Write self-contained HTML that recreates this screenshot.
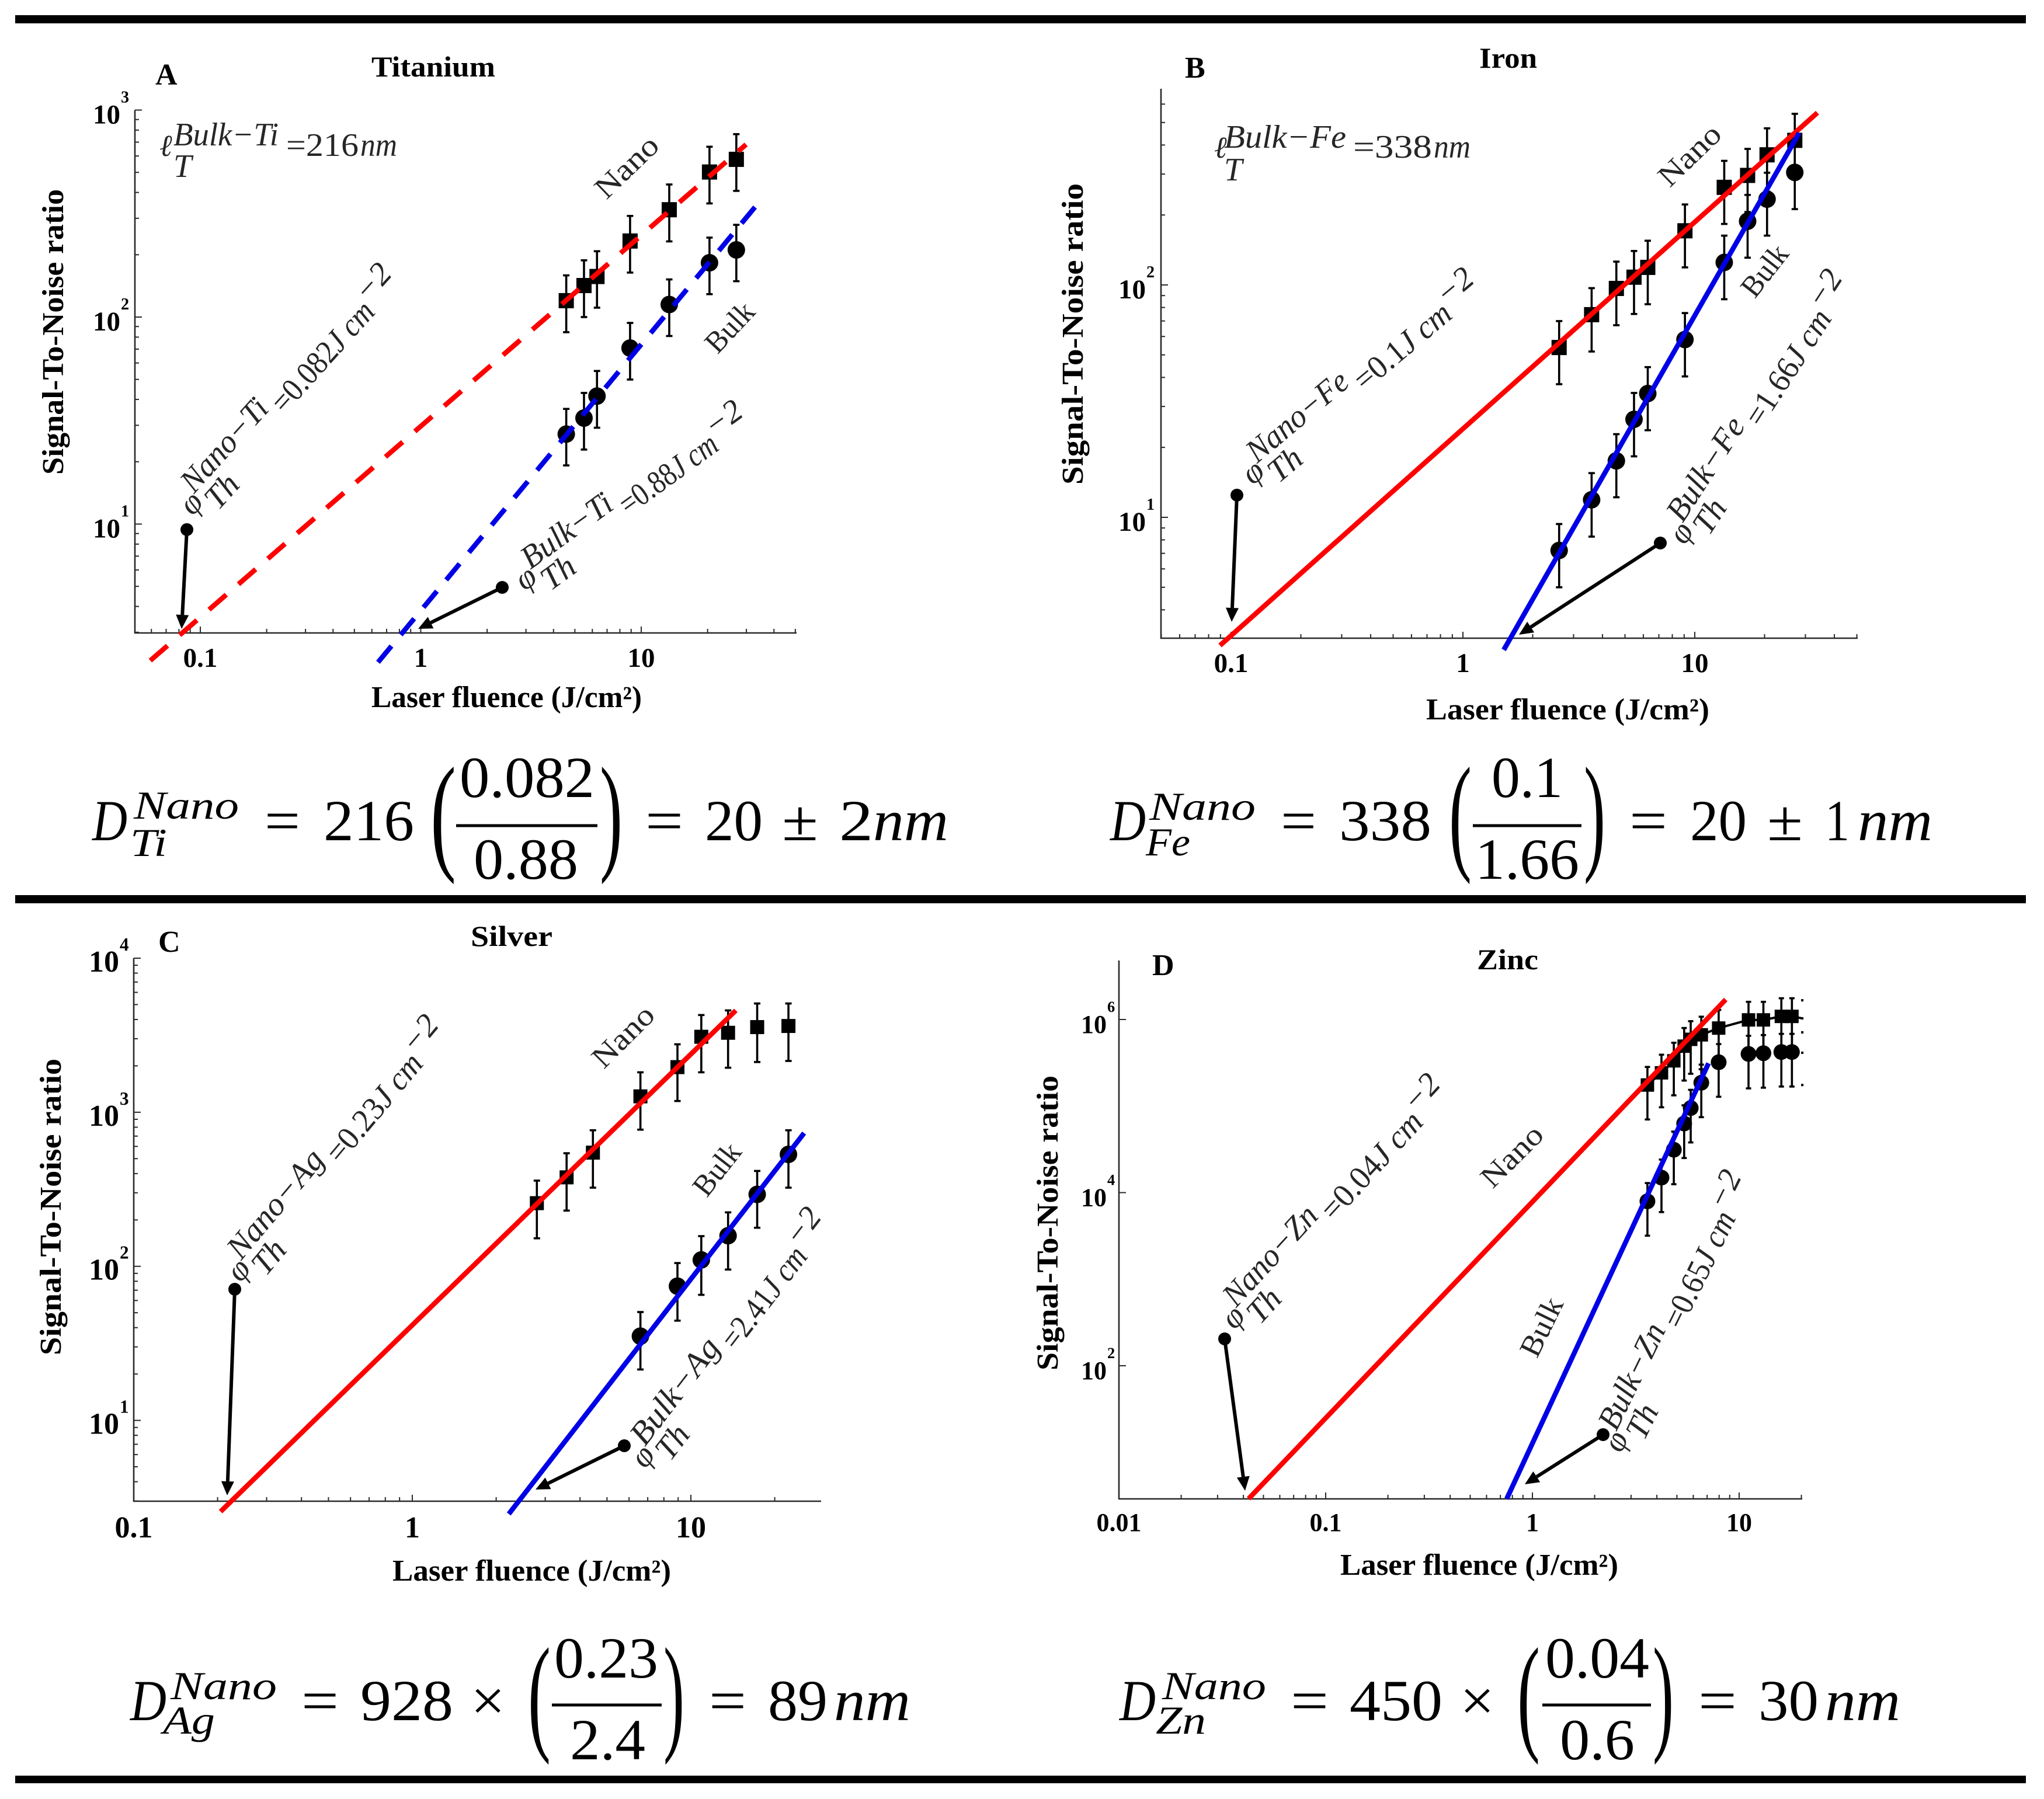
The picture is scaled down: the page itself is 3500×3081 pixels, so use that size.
<!DOCTYPE html>
<html lang="en">
<head>
<meta charset="utf-8">
<title>Signal-to-noise versus laser fluence for bulk and nano metals</title>
<style>
html,body{margin:0;padding:0;background:#fff;}
svg{display:block;}
text{font-family:"Liberation Serif","DejaVu Serif",serif;}
</style>
</head>
<body>
<svg id="figure" xmlns="http://www.w3.org/2000/svg" width="3500" height="3081" viewBox="0 0 3500 3081">
  <rect x="0" y="0" width="3500" height="3081" fill="#fff"/>
  <rect x="26" y="26" width="3443" height="14" fill="#000"/>
  <rect x="26" y="1533" width="3443" height="14" fill="#000"/>
  <rect x="26" y="3041" width="3443" height="13" fill="#000"/>
</svg>
<script>
/* ---------- Titanium data ---------- */
const tiFluence=[4.57,5.5,6.3,8.9,13.4,20.4,27];
const tiNano=[120,142,157,233,330,502,578];
const tiNanoHi=[159,188,208,308,437,665,765];
const tiNanoLo=[84.5,100,111,164,232,354,407];
const tiBulk=[27.2,32.5,41.5,70.8,115,183,211];
const tiBulkHi=[36,43,54.9,93.7,152,242,279];
const tiBulkLo=[19.2,22.9,29.2,49.9,81,129,149];
const tiFitNanoX=[0.0593,29.9];
const tiFitNanoY=[2.19,682];
const tiFitBulkX=[0.64,33.8];
const tiFitBulkY=[2.15,353];
const tiXTicks=[0.1,1,10];
const tiXLabels=['0.1','1','10'];
const tiYExps=[1,2,3];

/* ---------- Iron data ---------- */
const feFluence=[2.6,3.59,4.59,5.47,6.27,9.07,13.4,16.9,20.5,27];
const feNano=[53.8,74.5,96.6,108,119,171,263,296,363,419];
const feNanoHi=[69.9,96.9,126,140,155,222,342,385,472,545];
const feNanoLo=[37.4,51.7,67.1,75,82.6,119,183,206,252,291];
const feBulk=[7.2,11.9,17.5,26.4,34.1,58.2,125,188,234,305];
const feBulkHi=[9.36,15.5,22.8,34.3,44.3,75.7,163,244,304,397];
const feBulkLo=[5,8.26,12.2,18.3,23.7,40.4,86.8,131,163,212];
const feFitNanoX=[0.0896,33.8];
const feFitNanoY=[2.81,551];
const feFitBulkX=[1.5,28.2];
const feFitBulkY=[2.69,451];
const feXTicks=[0.1,1,10];
const feXLabels=['0.1','1','10'];
const feYExps=[1,2];

/* ---------- Silver data ---------- */
const agNanoFluence=[2.8,3.58,4.45,6.59,8.95,10.9,13.6,17.3,22.4];
const agNano=[257,378,547,1268,1963,3090,3280,3570,3630];
const agNanoHi=[360,542,764,1817,2761,4276,4581,5082,5082];
const agNanoLo=[152,230,324,771,1183,1817,1945,2118,2153];
const agBulkFluence=[6.59,8.95,10.9,13.6,17.3,22.4];
const agBulk=[35.2,74.3,110,158,293,533];
const agBulkHi=[50.5,105,157,224,416,764];
const agBulkLo=[21.4,44.4,65.3,95.3,178,324];
const agFitNanoX=[0.205,14.5];
const agFitNanoY=[2.56,4580];
const agFitBulkX=[2.22,25.5];
const agFitBulkY=[2.47,733];
const agXTicks=[0.1,1,10];
const agXLabels=['0.1','1','10'];
const agYExps=[1,2,3,4];

/* ---------- Zinc data ---------- */
const znFluence=[3.6,4.21,4.83,5.42,5.83,6.56,7.96,11.1,13.1,16,18];
const znNano=[175000,242000,333000,492000,590000,665000,796000,989000,989000,1086000,1086000];
const znNanoHi=[283000,392000,539000,797000,956000,1077000,1290000,1600000,1600000,1760000,1760000];
const znNanoLo=[70000,96800,133000,197000,236000,266000,318000,396000,396000,434000,434000];
const znBulk=[7940,14900,31300,62800,94900,186000,321000,400000,408000,421000,421000];
const znBulkHi=[12900,24100,50700,102000,154000,301000,520000,648000,661000,682000,682000];
const znBulkLo=[3180,5960,12500,25100,38000,74400,128000,160000,163000,168000,168000];
const znFitNanoX=[0.0424,8.61];
const znFitNanoY=[2.91,1700000];
const znFitBulkX=[0.751,7.11];
const znFitBulkY=[2.9,312000];
const znEdgeFluence=[20.2];
const znEdgeCaps=[1667000,1030000,710000,413000,175000];
const znXTicks=[0.01,0.1,1,10];
const znXLabels=['0.01','0.1','1','10'];
const znYExps=[2,4,6];

const SVGNS='http://www.w3.org/2000/svg';
const root=document.getElementById('figure');
const INK='#262626';

function mk(parent,tag,attrs,txt){
  const e=document.createElementNS(SVGNS,tag);
  for(const k in attrs)e.setAttribute(k,attrs[k]);
  if(txt!==undefined)e.textContent=txt;
  parent.appendChild(e);
  return e;
}
function logScale(v1,p1,v2,p2){
  const m=(p2-p1)/(Math.log10(v2)-Math.log10(v1));
  return v=>p1+(Math.log10(v)-Math.log10(v1))*m;
}
function label(parent,name,x,y,str,size,opts){
  opts=opts||{};
  const a={x:x,y:y,'font-size':size,fill:opts.fill||'#000'};
  if(opts.bold)a['font-weight']='bold';
  if(opts.italic)a['font-style']='italic';
  if(opts.anchor)a['text-anchor']=opts.anchor;
  if(opts.len){a.textLength=opts.len;a.lengthAdjust='spacingAndGlyphs';}
  if(opts.transform)a.transform=opts.transform;
  const t=mk(parent,'text',a,str);
  
  
  return t;
}

function drawAxes(g,p,xs,ys){
  const ax=mk(g,'path',{d:`M${p.left} ${p.top}V${p.bottom}H${p.right}`,fill:'none',stroke:'#2a2a2a','stroke-width':2.6});
  
  
  const xLo=Math.floor(Math.log10(p.xMin)),xHi=Math.ceil(Math.log10(p.xMax));
  for(let d=xLo;d<xHi;d++)for(let m=1;m<10;m++){
    const v=m*Math.pow(10,d);
    if(v<p.xMin*0.999||v>p.xMax*1.001)continue;
    const tl=m===1?11:7;
    const t=mk(g,'line',{x1:xs(v),x2:xs(v),y1:p.bottom,y2:p.bottom-tl,stroke:'#2a2a2a','stroke-width':2});
    
    
  }
  const yLo=Math.floor(Math.log10(p.yMin)),yHi=Math.ceil(Math.log10(p.yMax));
  for(let d=yLo;d<=yHi;d++)for(let m=1;m<10;m++){
    if(m>1&&!p.yMinor)continue;
    const v=m*Math.pow(10,d);
    if(v<p.yMin*0.999||v>p.yMax*1.001)continue;
    if(!p.yMinor&&d%2!==0)continue;
    const tl=m===1?12:7;
    const t=mk(g,'line',{x1:p.left,x2:p.left+tl,y1:ys(v),y2:ys(v),stroke:'#2a2a2a','stroke-width':2});
    
    
  }
  p.xTicks.forEach((v,i)=>{
    label(g,'x-tick-label',xs(v),p.xLabelY,p.xLabels[i],p.tickSize,{bold:true,anchor:'middle'});
  });
  p.yExps.forEach(e=>{
    const v=Math.pow(10,e),y=ys(v);
    label(g,'y-tick-label',p.yLabelRight,y+23,'10',p.tickSize,{bold:true,anchor:'end'});
    label(g,'y-tick-exponent',p.yLabelRight+1,y-13,String(e),p.tickSize*0.6,{bold:true});
  });
}

function drawSeries(g,name,xVals,yVals,hi,lo,shape,p,xs,ys){
  xVals.forEach((xv,i)=>{
    const x=xs(xv),y1=ys(hi[i]),y2=ys(lo[i]);
    const st=mk(g,'line',{x1:x,x2:x,y1:y1,y2:y2,stroke:'#000','stroke-width':p.errW});
    
    
    [y1,y2].forEach(cy=>{
      const c=mk(g,'line',{x1:x-p.capW,x2:x+p.capW,y1:cy,y2:cy,stroke:'#000','stroke-width':p.errW});
      
      
    });
    const y=ys(yVals[i]);
    let m;
    if(shape==='square')m=mk(g,'rect',{x:x-p.sq/2,y:y-p.sq/2,width:p.sq,height:p.sq,fill:'#000'});
    else m=mk(g,'circle',{cx:x,cy:y,r:p.r,fill:'#000'});
    
    
  });
}

function drawFit(g,name,fx,fy,color,dash,xs,ys){
  const a={x1:xs(fx[0]),y1:ys(fy[0]),x2:xs(fx[1]),y2:ys(fy[1]),stroke:color,'stroke-width':8.5};
  if(dash)a['stroke-dasharray']=dash;
  const l=mk(g,'line',a);
  
  
}

function arrow(g,name,dx,dy,tx,ty){
  const ang=Math.atan2(ty-dy,tx-dx),L=24,W=11;
  const bx=tx-L*Math.cos(ang),by=ty-L*Math.sin(ang);
  const nx=-Math.sin(ang),ny=Math.cos(ang);
  const gg=mk(g,'g',{});
  
  
  mk(gg,'line',{x1:dx,y1:dy,x2:bx,y2:by,stroke:'#000','stroke-width':6});
  mk(gg,'circle',{cx:dx,cy:dy,r:11,fill:'#000'});
  mk(gg,'polygon',{points:`${tx},${ty} ${bx+nx*W},${by+ny*W} ${bx-nx*W},${by-ny*W}`,fill:'#000'});
}

function phiLabel(g,name,x,y,deg,sup,num,supLen,mainLen){
  const gg=mk(g,'g',{transform:`translate(${x} ${y}) rotate(${-deg})`});
  
  
  const S=56;
  mk(gg,'text',{x:0,y:0,'font-size':S,'font-style':'italic',fill:INK},'\u03C6');
  mk(gg,'text',{x:30,y:-24,'font-size':S,'font-style':'italic',fill:INK,textLength:supLen,lengthAdjust:'spacingAndGlyphs'},sup);
  mk(gg,'text',{x:36,y:26,'font-size':S,'font-style':'italic',fill:INK},'Th');
  const mx=30+supLen+10;
  const m=mk(gg,'text',{x:mx,y:0,'font-size':S,fill:INK,textLength:mainLen,lengthAdjust:'spacingAndGlyphs'});
  mk(m,'tspan',{},num);
  mk(m,'tspan',{'font-style':'italic'},'J cm');
  mk(gg,'text',{x:mx+mainLen+2,y:-22,'font-size':S,'font-style':'italic',fill:INK},'\u22122');
}

function ellLabel(g,name,lx,supX,supW,supY,tY,supStr,mainX,mainW,nmX,nmW,mainY,num){
  const gg=mk(g,'g',{});
  
  
  mk(gg,'text',{x:lx,y:mainY,'font-size':52,'font-style':'italic',fill:INK},'\u2113');
  mk(gg,'text',{x:supX,y:supY,'font-size':56,'font-style':'italic',fill:INK,textLength:supW,lengthAdjust:'spacingAndGlyphs'},supStr);
  mk(gg,'text',{x:supX,y:tY,'font-size':56,'font-style':'italic',fill:INK},'T');
  mk(gg,'text',{x:mainX,y:mainY,'font-size':56,fill:INK,textLength:mainW,lengthAdjust:'spacingAndGlyphs'},num);
  mk(gg,'text',{x:nmX,y:mainY,'font-size':56,'font-style':'italic',fill:INK,textLength:nmW,lengthAdjust:'spacingAndGlyphs'},'nm');
}

function eq(g,str,x1,x2,y,size,italic){
  const a={x:x1,y:y,'font-size':size,fill:'#000',textLength:x2-x1,lengthAdjust:'spacingAndGlyphs'};
  if(italic)a['font-style']='italic';
  return mk(g,'text',a,str);
}
function equation(name,e){
  const g=mk(root,'g',{});
  
  
  const B=e.base,N=e.numBase,D=e.denBase,F=100,Q=68;
  eq(g,'D',e.D[0],e.D[1],B,F,true);
  eq(g,'Nano',e.nano[0],e.nano[1],e.supBase,Q,true);
  eq(g,e.subStr,e.sub[0],e.sub[1],e.subBase,Q,true);
  eq(g,'=',e.eq1[0],e.eq1[1],B,F);
  eq(g,e.coefStr,e.coef[0],e.coef[1],B,F);
  if(e.times)eq(g,'\u00D7',e.times[0],e.times[1],B,F);
  eq(g,'(',e.lp[0],e.lp[1],e.parBase,222);
  eq(g,e.numStr,e.num[0],e.num[1],N,F);
  mk(g,'rect',{x:e.bar[0],y:e.barY-2.5,width:e.bar[1]-e.bar[0],height:5,fill:'#000'});
  eq(g,e.denStr,e.den[0],e.den[1],D,F);
  eq(g,')',e.rp[0],e.rp[1],e.parBase,222);
  eq(g,'=',e.eq2[0],e.eq2[1],B,F);
  eq(g,e.resStr,e.res[0],e.res[1],B,F);
  if(e.pm){
    eq(g,'\u00B1',e.pm[0],e.pm[1],B,F);
    eq(g,e.tolStr,e.tol[0],e.tol[1],B,F);
  }
  eq(g,'nm',e.nm[0],e.nm[1],B,F,true);
}

function panel(p){
  const g=mk(root,'g',{});
  
  
  const xs=logScale(p.xRef[0],p.xRef[1],p.xRef[2],p.xRef[3]);
  const ys=logScale(p.yRef[0],p.yRef[1],p.yRef[2],p.yRef[3]);
  p.xMin=Math.pow(10,Math.log10(p.xRef[0])+(p.left-p.xRef[1])*(Math.log10(p.xRef[2])-Math.log10(p.xRef[0]))/(p.xRef[3]-p.xRef[1]));
  p.xMax=Math.pow(10,Math.log10(p.xRef[0])+(p.right-p.xRef[1])*(Math.log10(p.xRef[2])-Math.log10(p.xRef[0]))/(p.xRef[3]-p.xRef[1]));
  p.yMin=Math.pow(10,Math.log10(p.yRef[0])+(p.bottom-p.yRef[1])*(Math.log10(p.yRef[2])-Math.log10(p.yRef[0]))/(p.yRef[3]-p.yRef[1]));
  p.yMax=Math.pow(10,Math.log10(p.yRef[0])+(p.top-p.yRef[1])*(Math.log10(p.yRef[2])-Math.log10(p.yRef[0]))/(p.yRef[3]-p.yRef[1]));
  drawAxes(g,p,xs,ys);
  if(p.connect)p.connect(g,xs,ys);
  drawSeries(g,'nano',p.nanoX,p.nano,p.nanoHi,p.nanoLo,'square',p,xs,ys);
  drawSeries(g,'bulk',p.bulkX,p.bulk,p.bulkHi,p.bulkLo,'circle',p,xs,ys);
  drawFit(g,'nano-fit-line',p.fitNX,p.fitNY,'#fe0000',p.dashN,xs,ys);
  drawFit(g,'bulk-fit-line',p.fitBX,p.fitBY,'#0000e6',p.dashB,xs,ys);
  label(g,'panel-title',p.title[1],p.title[3],p.title[0],50,{bold:true,len:p.title[2]-p.title[1]});
  label(g,'panel-letter',p.letter[1],p.letter[2],p.letter[0],52,{bold:true});
  label(g,'x-axis-title',p.xTitle[0],p.xTitle[2],'Laser fluence (J/cm\u00B2)',52,{bold:true,len:p.xTitle[1]-p.xTitle[0]});
  const yMid=p.yTitle[0];
  label(g,'y-axis-title',0,0,'Signal-To-Noise ratio',52,{bold:true,len:p.yTitle[2]-p.yTitle[1],transform:`translate(${yMid} ${p.yTitle[2]}) rotate(-90)`});
  p.words.forEach(w=>{
    label(g,w[0].toLowerCase()+'-curve-label',0,0,w[0],52,{fill:INK,anchor:'middle',len:w[3],transform:`translate(${w[1]} ${w[2]}) rotate(${w[4]})`});
  });
  arrow(g,'nano-threshold-arrow',p.arrowN[0],p.arrowN[1],p.arrowN[2],p.arrowN[3]);
  arrow(g,'bulk-threshold-arrow',p.arrowB[0],p.arrowB[1],p.arrowB[2],p.arrowB[3]);
  phiLabel(g,'nano-threshold-label',...p.phiN);
  phiLabel(g,'bulk-threshold-label',...p.phiB);
  if(p.ell)ellLabel(g,'penetration-depth-label',...p.ell);
}

panel({id:'titanium',xRef:[0.1,343,10,1098],yRef:[10,897.5,1000,188.5],left:231,right:1364,top:188.5,bottom:1084,
  xTicks:tiXTicks,xLabels:tiXLabels,yExps:tiYExps,yMinor:true,xLabelY:1142,yLabelRight:206,tickSize:47,
  nanoX:tiFluence,nano:tiNano,nanoHi:tiNanoHi,nanoLo:tiNanoLo,bulkX:tiFluence,bulk:tiBulk,bulkHi:tiBulkHi,bulkLo:tiBulkLo,
  fitNX:tiFitNanoX,fitNY:tiFitNanoY,fitBX:tiFitBulkX,fitBY:tiFitBulkY,dashN:'39 27.6',dashB:'36 25',
  sq:26,r:15,errW:3.6,capW:5.5,
  title:['Titanium',636,848,131],letter:['A',266,145],xTitle:[636,1099,1211],yTitle:[108,324,813],
  words:[['Nano',1085,298,130,-44],['Bulk',1262,572,98,-47]],
  arrowN:[320,907,311,1077],arrowB:[860,1006,716,1077],
  phiN:[330,885,48,'Nano\u2212Ti','=0.082',195,235],phiB:[898,1013,36,'Bulk\u2212Ti','=0.88',180,195],
  ell:[273,297,180,249,303,'Bulk\u2212Ti',490,124,617,63,267,'=216']});

panel({id:'iron',xRef:[0.1,2108,10,2902],yRef:[10,886,100,488],left:1988,right:3181,top:152,bottom:1093,
  xTicks:feXTicks,xLabels:feXLabels,yExps:feYExps,yMinor:true,xLabelY:1151,yLabelRight:1962,tickSize:47,
  nanoX:feFluence,nano:feNano,nanoHi:feNanoHi,nanoLo:feNanoLo,bulkX:feFluence,bulk:feBulk,bulkHi:feBulkHi,bulkLo:feBulkLo,
  fitNX:feFitNanoX,fitNY:feFitNanoY,fitBX:feFitBulkX,fitBY:feFitBulkY,
  sq:26,r:15,errW:3.6,capW:5.5,
  title:['Iron',2533,2632,116],letter:['B',2029,133],xTitle:[2442,2927,1232],yTitle:[1854,314,830],
  words:[['Nano',2905,278,128,-44],['Bulk',3035,474,98,-52]],
  arrowN:[2118,848,2109,1065],arrowB:[2843,930,2601,1087],
  phiN:[2145,832,40,'Nano\u2212Fe','=0.1',210,200],phiB:[2885,935,57,'Bulk\u2212Fe','=1.66',200,225],
  ell:[2079,2096,209,253,309,'Bulk\u2212Fe',2317,135,2455,63,270,'=338']});

panel({id:'silver',xRef:[0.1,229,10,1183],yRef:[10,2432.6,10000,1641],left:229,right:1406,top:1641,bottom:2571,
  xTicks:agXTicks,xLabels:agXLabels,yExps:agYExps,yMinor:true,xLabelY:2633,yLabelRight:204,tickSize:52,
  nanoX:agNanoFluence,nano:agNano,nanoHi:agNanoHi,nanoLo:agNanoLo,bulkX:agBulkFluence,bulk:agBulk,bulkHi:agBulkHi,bulkLo:agBulkLo,
  fitNX:agFitNanoX,fitNY:agFitNanoY,fitBX:agFitBulkX,fitBY:agFitBulkY,
  sq:24,r:15,errW:3.6,capW:5.5,
  title:['Silver',806,946,1620],letter:['C',271,1630],xTitle:[672,1149,2707],yTitle:[104,1813,2321],
  words:[['Nano',1079,1787,128,-45],['Bulk',1241,2013,100,-52]],
  arrowN:[402,2208,389,2561],arrowB:[1069,2476,917,2551],
  phiN:[412,2198,50,'Nano\u2212Ag','=0.23',225,225],phiB:[1105,2517,52.5,'Bulk\u2212Ag','=2.41',215,205]});

panel({id:'zinc',xRef:[0.01,1916,10,2978],yRef:[100,2339,1000000,1746],left:1916,right:3086,top:1645,bottom:2567,
  xTicks:znXTicks,xLabels:znXLabels,yExps:znYExps,yMinor:false,xLabelY:2622,yLabelRight:1895,tickSize:44,
  nanoX:znFluence,nano:znNano,nanoHi:znNanoHi,nanoLo:znNanoLo,bulkX:znFluence,bulk:znBulk,bulkHi:znBulkHi,bulkLo:znBulkLo,
  fitNX:znFitNanoX,fitNY:znFitNanoY,fitBX:znFitBulkX,fitBY:znFitBulkY,
  sq:23,r:13.5,errW:3.6,capW:4.5,
  connect:function(g,xs,ys){
    const pts=znFluence.map((v,i)=>xs(v)+','+ys(znNano[i]));
    pts.push(xs(znEdgeFluence[0])+','+ys(znEdgeCaps[1]));
    const l=mk(g,'polyline',{points:pts.join(' '),fill:'none',stroke:'#000','stroke-width':4});
    
    
    znEdgeCaps.forEach(v=>{
      const c=mk(g,'rect',{x:xs(znEdgeFluence[0])-2,y:ys(v)-2,width:4,height:4,fill:'#000'});
      
      
    });
  },
  title:['Zinc',2529,2634,1660],letter:['D',1973,1670],xTitle:[2295,2771,2697],yTitle:[1811,1842,2347],
  words:[['Nano',2601,1992,128,-45],['Bulk',2655,2280,106,-64]],
  arrowN:[2097,2293,2132,2553],arrowB:[2745,2457,2611,2542],
  phiN:[2114,2279,47.5,'Nano\u2212Zn','=0.04',212,230],phiB:[2776,2490,64,'Bulk\u2212Zn','=0.65',195,215]});

equation('equation-titanium',{base:1439,supBase:1402,subBase:1466,numBase:1365,denBase:1505,parBase:1467,barY:1414,
  D:[158,218],nano:[229,409],subStr:'Ti',sub:[223,286],eq1:[453,514],coefStr:'216',coef:[554,709],
  lp:[737,781],numStr:'0.082',num:[787,1018],bar:[781,1023],denStr:'0.88',den:[811,990],rp:[1027,1066],
  eq2:[1105,1170],resStr:'20',res:[1207,1306],pm:[1339,1401],tolStr:'2',tol:[1437,1495],nm:[1495,1624]});
equation('equation-iron',{base:1439,supBase:1404,subBase:1465,numBase:1365,denBase:1505,parBase:1467,barY:1414,
  D:[1901,1962],nano:[1968,2150],subStr:'Fe',sub:[1962,2038],eq1:[2193,2254],coefStr:'338',coef:[2293,2451],
  lp:[2481,2520],numStr:'0.1',num:[2554,2676],bar:[2522,2708],denStr:'1.66',den:[2526,2704],rp:[2712,2749],
  eq2:[2790,2855],resStr:'20',res:[2894,2991],pm:[3026,3087],tolStr:'1',tol:[3125,3167],nm:[3181,3309]});
equation('equation-silver',{base:2946,supBase:2910,subBase:2969,numBase:2873,denBase:3013,parBase:2975,barY:2920,
  D:[223,285],nano:[292,474],subStr:'Ag',sub:[279,368],eq1:[516,580],coefStr:'928',coef:[617,776],times:[806,865],
  lp:[904,943],numStr:'0.23',num:[949,1127],bar:[945,1133],denStr:'2.4',den:[976,1105],rp:[1136,1172],
  eq2:[1214,1278],resStr:'89',res:[1315,1417],nm:[1428,1559]});
equation('equation-zinc',{base:2946,supBase:2910,subBase:2969,numBase:2873,denBase:3013,parBase:2975,barY:2920,
  D:[1917,1979],nano:[1990,2168],subStr:'Zn',sub:[1979,2065],eq1:[2210,2275],coefStr:'450',coef:[2311,2470],times:[2500,2559],
  lp:[2598,2637],numStr:'0.04',num:[2646,2824],bar:[2641,2827],denStr:'0.6',den:[2671,2799],rp:[2830,2866],
  eq2:[2908,2974],resStr:'30',res:[3011,3114],nm:[3125,3254]});
</script>
</body>
</html>
